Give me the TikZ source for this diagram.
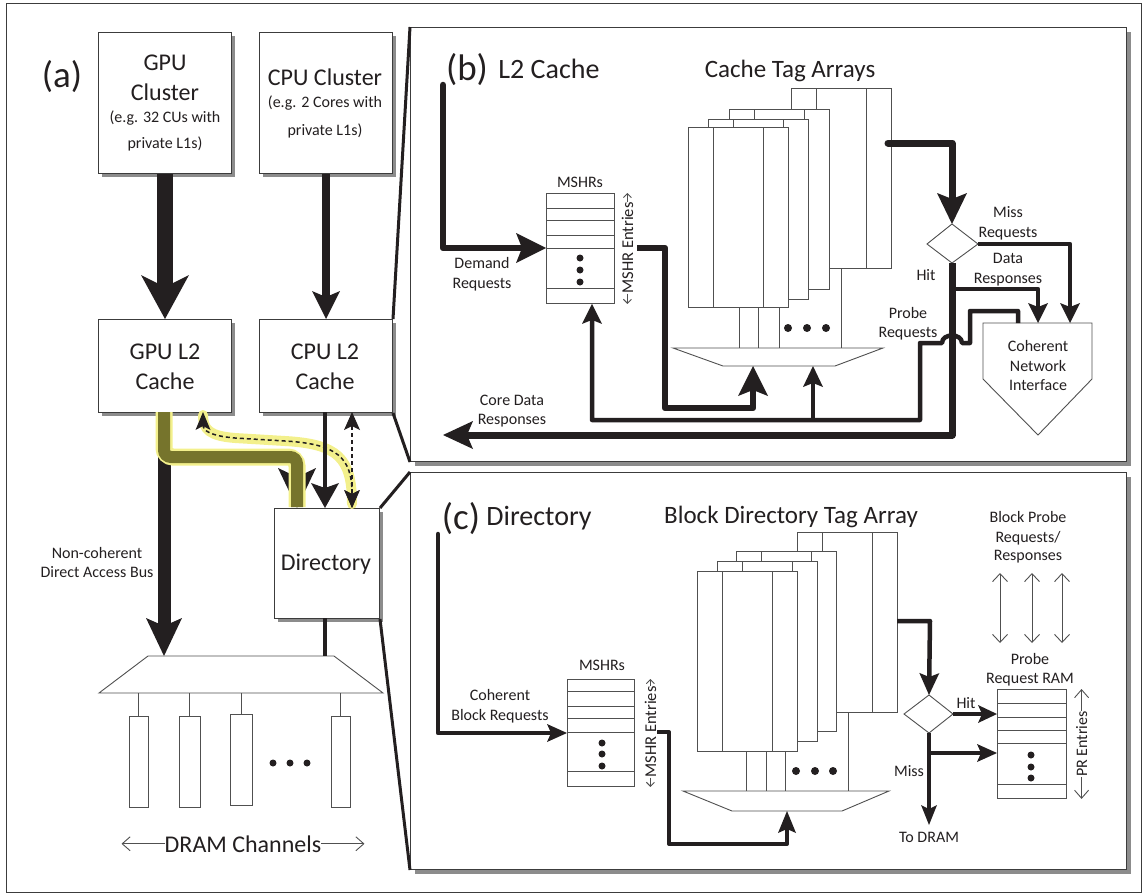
\documentclass[tikz,border=0pt]{standalone}
\usepackage{fontspec}
\setmainfont{Carlito}
\usetikzlibrary{arrows.meta,shadows}
\definecolor{ink}{RGB}{35,31,32}
\definecolor{frame}{RGB}{60,60,60}
\definecolor{olivepath}{RGB}{118,116,44}
\definecolor{glowy}{RGB}{243,240,140}
\definecolor{shade}{RGB}{140,140,140}
\definecolor{thinln}{RGB}{80,80,80}
\tikzset{
  lbl/.style={text=ink, inner sep=0pt, anchor=base},
  fA/.style={lbl, font=\fontsize{37}{41}\selectfont},
  fT/.style={lbl, font=\fontsize{28}{32}\selectfont},
  fH/.style={lbl, font=\fontsize{25}{29}\selectfont},
  fB/.style={lbl, font=\fontsize{24}{28}\selectfont},
  fL/.style={lbl, font=\fontsize{16}{19}\selectfont},
  fS/.style={lbl, font=\fontsize{16}{19}\selectfont},
  fM/.style={lbl, font=\fontsize{16}{19}\selectfont},
  fE/.style={lbl, font=\fontsize{16.5}{20}\selectfont},
  sbox/.style={draw=frame, line width=1pt, fill=white, inner sep=0pt, anchor=north west,
     drop shadow={shadow xshift=3pt, shadow yshift=-3pt, opacity=1, fill=shade}},
  pnl/.style={draw=frame, line width=1pt, fill=white, inner sep=0pt, anchor=north west,
     drop shadow={shadow xshift=4pt, shadow yshift=-4pt, opacity=1, fill=shade}},
  rambox/.style={draw=thinln, line width=0.9pt, fill=white, inner sep=0pt, anchor=north west},
  plain/.style={draw=thinln, line width=0.9pt},
  zoomln/.style={draw=ink, line width=3pt},
  wire/.style={draw=ink, line width=#1, line join=round},
  hd/.style n args={3}{-{Stealth[length=#1, width=#2, inset=#3, line width=0pt]}},
  dhd/.style n args={3}{{Stealth[length=#1, width=#2, inset=#3, line width=0pt]}-{Stealth[length=#1, width=#2, inset=#3, line width=0pt]}},
  barb/.style={-{Straight Barb[length=8pt, width=14pt]}},
  sbarb/.style={-{Straight Barb[length=4pt, width=8pt]}},
  dbarb/.style={{Straight Barb[length=8pt, width=15pt]}-{Straight Barb[length=8pt, width=15pt]}},
  dotc/.style={fill=ink, circle, inner sep=0pt, minimum size=7pt},
  dashln/.style={draw=ink, line width=1.5pt, dash pattern=on 4pt off 3pt},
}
\newcommand\tagarr[2]{%
  \filldraw[plain, fill=white] (#1,#2) rectangle ++(100,180);
  \draw[plain] (#1+25,#2) -- ++(0,180);
  \draw[plain] (#1+75,#2) -- ++(0,180);
}
\begin{document}
\begin{tikzpicture}[x=1pt, y=-1pt]
\useasboundingbox (0,0) rectangle (1146,894);
\draw[draw=frame, line width=1pt] (6,3) rectangle (1141,892);

% panels
\node[pnl, minimum width=716, minimum height=434] (pb) at (410,27) {};
\node[pnl, minimum width=716, minimum height=397] (pc) at (410,472) {};

% ---------------- (a) ----------------
\node[sbox, minimum width=133, minimum height=141] (gpu) at (98,32) {};
\node[sbox, minimum width=133, minimum height=141] (cpu) at (259,32) {};
\node[sbox, minimum width=133, minimum height=93] (gpul2) at (98,319) {};
\node[sbox, minimum width=133, minimum height=93] (cpul2) at (259,319) {};
\node[sbox, minimum width=105, minimum height=110] (dir) at (274,508) {};

\node[fA] (la) at (62,87) {(a)};
\node[fB] (g1) at (165,70) {GPU};
\node[fB] (g2) at (165,100) {Cluster};
\node[fS] (g3) at (165,122) {(e.g. 32 CUs with};
\node[fS] (g4) at (165,148) {private L1s)};
\node[fB] (c1) at (325,85) {CPU Cluster};
\node[fS] (c2) at (325,107) {(e.g. 2 Cores with};
\node[fS] (c3) at (325,135) {private L1s)};
\node[fB] (gl1) at (165,359) {GPU L2};
\node[fB] (gl2) at (165,389) {Cache};
\node[fB] (cl1) at (325,359) {CPU L2};
\node[fB] (cl2) at (325,389) {Cache};
\node[fB] (dt) at (326,570) {Directory};
\node[fL] (nc1) at (97,558) {Non-coherent};
\node[fL] (nc2) at (97,577) {Direct Access Bus};

% cluster -> L2 arrows
\draw[wire=16pt, hd={44pt}{48pt}{12pt}] (gpu.south) -- (gpul2.north);
\draw[wire=8pt, hd={28pt}{28pt}{6pt}] (cpu.south) -- (cpul2.north);

% DRAM mux and channels
\coordinate (busend) at (164,656);
\filldraw[plain, fill=white] (148,656) -- (334,656) -- (383,693) -- (99,693) -- cycle;
\foreach \cx/\ty in {138/716, 189/716, 241/714, 340/716} {
  \draw[plain] (\cx,693) -- (\cx,\ty);
}
\draw[plain] (129,716) rectangle (148,807);
\draw[plain] (179,716) rectangle (200,807);
\draw[plain] (230,714) rectangle (252,805);
\draw[plain] (331,716) rectangle (350,807);
\node[dotc] (dd1) at (273,763) {};
\node[dotc] (dd2) at (290,763) {};
\node[dotc] (dd3) at (307,763) {};
\node[fB] (dr) at (243,852) {DRAM Channels};
\draw[plain, barb] (dr.west) -- ++(-43,0);
\draw[plain, barb] (dr.east) -- ++(43,0);

% non-coherent bus
\draw[wire=13pt, hd={38pt}{36pt}{8pt}] (164,412) -- (busend);
% highlighted coherent path GPU L2 -> Directory
\coordinate (hlend) at (297,508);
\draw[wire=12pt, hd={40pt}{38pt}{9pt}] (297,472) -- (hlend);
\draw[draw=glowy, line width=17pt, rounded corners=9pt] (164,412) -- (164,457) -- (297,457) -- (297,507);
\draw[draw=olivepath, line width=12pt, rounded corners=7pt] (164,412) -- (164,457) -- (297,457) -- (297,507);
% curved dashed probe path
\draw[draw=glowy, line width=10pt, line cap=round] (352,504) .. controls (352,458) and (338,444) .. (285,441) -- (235,438) .. controls (210,436) and (203,430) .. (203,415);
\draw[dashln, dhd={18pt}{15pt}{4pt}] (352,508) .. controls (352,458) and (338,444) .. (285,441) -- (235,438) .. controls (210,436) and (203,430) .. (203,412);
% straight dashed
\draw[dashln, dhd={18pt}{16pt}{4pt}] (352,412) -- (352,508);
% CPU L2 -> directory
\draw[wire=4pt, hd={25pt}{28pt}{5pt}] (325,412) -- (325,508);
% directory -> mux
\draw[wire=4pt] (325,618) -- (325,656);

% ---------------- (b) ----------------
\node[fA] (lb) at (467,80) {(b)};
\node[fT] (lbt) at (549,78) {L2 Cache};
\node[fH] (cta) at (790,77) {Cache Tag Arrays};

\tagarr{791}{88}
\tagarr{729}{109}
\tagarr{708}{119}
\tagarr{688}{127}
\draw[plain] (739,307) -- (739,348);
\draw[plain] (758,307) -- (758,348);
\draw[plain] (779,307) -- (779,348);
\draw[plain] (841,268) -- (841,348);
\node[dotc, minimum size=8pt] (bd1) at (788,328) {};
\node[dotc, minimum size=8pt] (bd2) at (807,328) {};
\node[dotc, minimum size=8pt] (bd3) at (826,328) {};
\filldraw[plain, fill=white] (673,348) -- (883,348) -- (835,366) -- (723,366) -- cycle;

% MSHR (b)
\node[rambox, minimum width=68, minimum height=110] (mb) at (546,193) {};
\foreach \yy in {208,220,235,248,288} { \draw[plain] (546,\yy) -- (614,\yy); }
\node[dotc] (md1) at (580,258) {};
\node[dotc] (md2) at (580,270) {};
\node[dotc] (md3) at (580,282) {};
\node[fM] (mbl) at (580,187) {MSHRs};
\node[fE, rotate=90] (me1) at (633,248) {MSHR Entries};
\draw[plain, sbarb] (me1.east) -- (me1.east |- mb.north);
\draw[plain, sbarb] (me1.west) -- (me1.west |- mb.south);

% diamond (b)
\coordinate (dbT) at (952,224);
\coordinate (dbR) at (978,244);
\coordinate (dbB) at (952,263);
\coordinate (dbL) at (927,244);
\filldraw[plain, fill=white] (dbL) -- (dbT) -- (dbR) -- (dbB) -- cycle;

% CNI
\filldraw[plain, fill=white] (983,323) -- (1092,323) -- (1092,379) -- (1038,435) -- (983,379) -- cycle;
\node[fL] (cn1) at (1038,351) {Coherent};
\node[fL] (cn2) at (1038,371) {Network};
\node[fL] (cn3) at (1038,390) {Interface};

% wires (b)
\draw[wire=6.5pt, line cap=round, hd={30pt}{30pt}{6pt}] (443,85) -- (443,248) -- (mb.west |- 0,248);
\draw[wire=6.5pt, hd={30pt}{30pt}{6pt}] (637,248) -- (665,248) -- (665,408) -- (753,408) -- (753,366);
\draw[wire=7pt, line cap=round, hd={31pt}{30pt}{6pt}] (888,143) -- (952,143) -- (dbT);
\draw[wire=4.5pt, hd={20pt}{20pt}{4pt}] (dbR) -- (1070,244) -- (1070,323);
\draw[wire=7pt, hd={30pt}{28pt}{6pt}] (dbB) -- (952,435) -- (443,435);
\draw[wire=4.5pt, hd={20pt}{20pt}{4pt}] (952,289) -- (1038,289) -- (1038,323);
\draw[wire=4.5pt, hd={20pt}{20pt}{4pt}] (1018,323) -- (1018,311) -- (970,311) -- (970,343) -- (962,343) .. controls (962,333) and (942,333) .. (942,343) -- (920,343) -- (920,420) -- (592,420) -- (mb.south -| 592,0);
\draw[wire=4.5pt, hd={21pt}{20pt}{4pt}] (813,420) -- (813,366);

\node[fL] (dq1) at (482,268) {Demand};
\node[fL] (dq2) at (482,288) {Requests};
\node[fL] (mr1) at (1008,217) {Miss};
\node[fL] (mr2) at (1008,237) {Requests};
\node[fL] (dr1) at (1008,263) {Data};
\node[fL] (dr2) at (1008,283) {Responses};
\node[fL] (hb) at (926,280) {Hit};
\node[fL] (pr1) at (908,318) {Probe};
\node[fL] (pr2) at (908,337) {Requests};
\node[fL] (cd1) at (512,405) {Core Data};
\node[fL] (cd2) at (512,424) {Responses};

% ---------------- (c) ----------------
\node[fA] (lc) at (461,529) {(c)};
\node[fT] (lct) at (539,525) {Directory};
\node[fH] (bdt) at (791,523) {Block Directory Tag Array};

\tagarr{797}{532}
\tagarr{736}{551}
\tagarr{717}{561}
\tagarr{697}{571}
\draw[plain] (746,751) -- (746,791);
\draw[plain] (766,751) -- (766,791);
\draw[plain] (785,751) -- (785,791);
\draw[plain] (848,712) -- (848,791);
\node[dotc, minimum size=8pt] (cd4) at (796,771) {};
\node[dotc, minimum size=8pt] (cd5) at (815,771) {};
\node[dotc, minimum size=8pt] (cd6) at (833,771) {};
\filldraw[plain, fill=white] (683,791) -- (889,791) -- (842,811) -- (732,811) -- cycle;

% MSHR (c)
\node[rambox, minimum width=67, minimum height=107] (mc) at (567,679) {};
\foreach \yy in {691,706,718,732,771} { \draw[plain] (567,\yy) -- (634,\yy); }
\node[dotc] (mc1) at (602,743) {};
\node[dotc] (mc2) at (602,754) {};
\node[dotc] (mc3) at (602,766) {};
\node[fM] (mcl) at (602,670) {MSHRs};
\node[fE, rotate=90] (me2) at (656,732) {MSHR Entries};
\draw[plain, sbarb] (me2.east) -- (me2.east |- mc.north);
\draw[plain, sbarb] (me2.west) -- (me2.west |- mc.south);

% PR RAM
\node[rambox, minimum width=69, minimum height=109] (pr) at (997,689) {};
\foreach \yy in {703,717,730,743,784} { \draw[plain] (997,\yy) -- (1066,\yy); }
\node[dotc] (pd1) at (1031,755) {};
\node[dotc] (pd2) at (1031,767) {};
\node[dotc] (pd3) at (1031,778) {};
\node[fL, rotate=90] (pe) at (1087,744) {PR Entries};
\draw[plain, barb] (pe.east) -- (pe.east |- pr.north);
\draw[plain, barb] (pe.west) -- (pe.west |- pr.south);

% diamond (c)
\coordinate (dcT) at (929,695);
\coordinate (dcR) at (953,714);
\coordinate (dcB) at (929,733);
\coordinate (dcL) at (904,714);
\filldraw[plain, fill=white] (dcL) -- (dcT) -- (dcR) -- (dcB) -- cycle;

% wires (c)
\draw[wire=4.5pt, line cap=round, hd={20pt}{18pt}{4pt}] (438,534) -- (438,733) -- (mc.west |- 0,733);
\draw[wire=4pt, hd={22pt}{18pt}{4pt}] (657,732) -- (669,732) -- (669,844) -- (787,844) -- (787,811);
\draw[wire=4.5pt, hd={22pt}{20pt}{4pt}] (897,621) -- (930,621) -- (dcT);
\draw[wire=4pt, hd={19pt}{18pt}{4pt}] (dcR) -- (pr.west |- dcR);
\draw[wire=4pt, hd={20pt}{16pt}{4pt}] (dcB) -- (929,825);
\draw[wire=4pt, hd={20pt}{18pt}{4pt}] (929,753) -- (pr.west |- 0,753);

\node[fL] (cb1) at (500,700) {Coherent};
\node[fL] (cb2) at (500,720) {Block Requests};
\node[fL] (bp1) at (1028,522) {Block Probe};
\node[fL] (bp2) at (1028,542) {Requests/};
\node[fL] (bp3) at (1028,560) {Responses};
\draw[plain, dbarb] (1000,573) -- (1000,643);
\draw[plain, dbarb] (1032,573) -- (1032,643);
\draw[plain, dbarb] (1062,573) -- (1062,643);
\node[fL] (rr1) at (1030,664) {Probe};
\node[fL] (rr2) at (1030,683) {Request RAM};
\node[fL] (hc) at (966,708) {Hit};
\node[fL] (mc4) at (909,776) {Miss};
\node[fL] (td) at (929,842) {To DRAM};

% zoom lines
\draw[zoomln] (cpul2.north east) -- (pb.north west);
\draw[zoomln] (cpul2.south east) -- (pb.south west);
\draw[zoomln] (dir.north east) -- (pc.north west);
\draw[zoomln] (dir.south east) -- (pc.south west);
\end{tikzpicture}
\end{document}
